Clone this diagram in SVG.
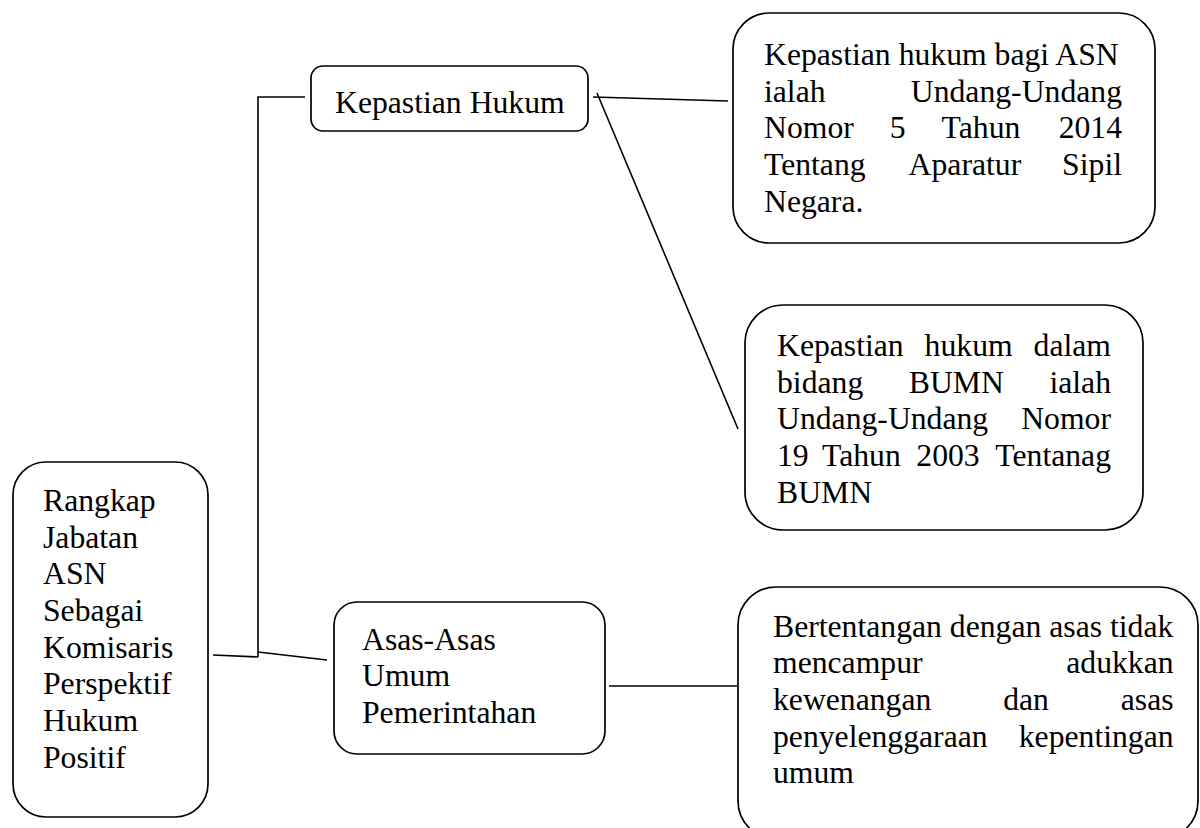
<svg xmlns="http://www.w3.org/2000/svg" width="1200" height="828" viewBox="0 0 1200 828">
<style>
.box{fill:#fff;stroke:#000;stroke-width:1.7}
.ln{fill:none;stroke:#000;stroke-width:1.6}
.t{font-family:"Liberation Serif","Times New Roman",serif;font-size:31.7px;fill:#000}
.e{text-anchor:end}
</style>
<rect width="1200" height="828" fill="#fff"/>
<g id="connectors">
<polyline class="ln" points="305,97 258,97 258,657"/>
<line class="ln" x1="213" y1="655" x2="258" y2="657"/>
<line class="ln" x1="258" y1="652" x2="327" y2="660"/>
<line class="ln" x1="593" y1="97" x2="728" y2="101"/>
<line class="ln" x1="597" y1="93" x2="738" y2="429"/>
<line class="ln" x1="609" y1="686" x2="737" y2="686"/>
</g>
<g id="node-root">
<rect class="box" x="13" y="462" width="195" height="355" rx="33"/>
<text class="t"><tspan x="43" y="511">Rangkap</tspan><tspan x="43" y="548">Jabatan</tspan><tspan x="43" y="584">ASN</tspan><tspan x="43" y="621">Sebagai</tspan><tspan x="43" y="658">Komisaris</tspan><tspan x="43" y="694">Perspektif</tspan><tspan x="43" y="731">Hukum</tspan><tspan x="43" y="768">Positif</tspan></text>
</g>
<g id="node-kepastian">
<rect class="box" x="311" y="66" width="277" height="65" rx="12"/>
<text class="t" x="335" y="113">Kepastian Hukum</text>
</g>
<g id="node-asas">
<rect class="box" x="334" y="602" width="271" height="152" rx="23"/>
<text class="t"><tspan x="362" y="650">Asas-Asas</tspan><tspan x="362" y="686">Umum</tspan><tspan x="362" y="723">Pemerintahan</tspan></text>
</g>
<g id="node-asn">
<rect class="box" x="733" y="13" width="422" height="230" rx="36"/>
<text class="t" x="764" y="64.5">Kepastian hukum bagi ASN</text>
<text class="t" x="764" y="101.5">ialah</text>
<text class="t e" x="1122" y="101.5">Undang-Undang</text>
<text class="t" x="764" y="138">Nomor</text>
<text class="t" x="889.8" y="138">5</text>
<text class="t" x="941.6" y="138">Tahun</text>
<text class="t e" x="1122" y="138">2014</text>
<text class="t" x="764" y="175">Tentang</text>
<text class="t" x="908.6" y="175">Aparatur</text>
<text class="t e" x="1122" y="175">Sipil</text>
<text class="t" x="764" y="211.5">Negara.</text>
</g>
<g id="node-bumn">
<rect class="box" x="745" y="305" width="398" height="225" rx="38"/>
<text class="t" x="777" y="356">Kepastian</text>
<text class="t" x="924.6" y="356">hukum</text>
<text class="t e" x="1111" y="356">dalam</text>
<text class="t" x="777" y="392.5">bidang</text>
<text class="t" x="908.8" y="392.5">BUMN</text>
<text class="t e" x="1111" y="392.5">ialah</text>
<text class="t" x="777" y="429">Undang-Undang</text>
<text class="t e" x="1111" y="429">Nomor</text>
<text class="t" x="777" y="466">19</text>
<text class="t" x="822" y="466">Tahun</text>
<text class="t" x="916.3" y="466">2003</text>
<text class="t e" x="1111" y="466">Tentanag</text>
<text class="t" x="777" y="502.5">BUMN</text>
</g>
<g id="node-bertentangan">
<rect class="box" x="738" y="587" width="460" height="252" rx="38"/>
<text class="t" x="773" y="636.5">Bertentangan dengan asas tidak</text>
<text class="t" x="773" y="673">mencampur</text>
<text class="t e" x="1173.6" y="673">adukkan</text>
<text class="t" x="773" y="710">kewenangan</text>
<text class="t" x="1003.2" y="710">dan</text>
<text class="t e" x="1173.6" y="710">asas</text>
<text class="t" x="773" y="746.5">penyelenggaraan</text>
<text class="t e" x="1173.6" y="746.5">kepentingan</text>
<text class="t" x="773" y="783">umum</text>
</g>
</svg>
